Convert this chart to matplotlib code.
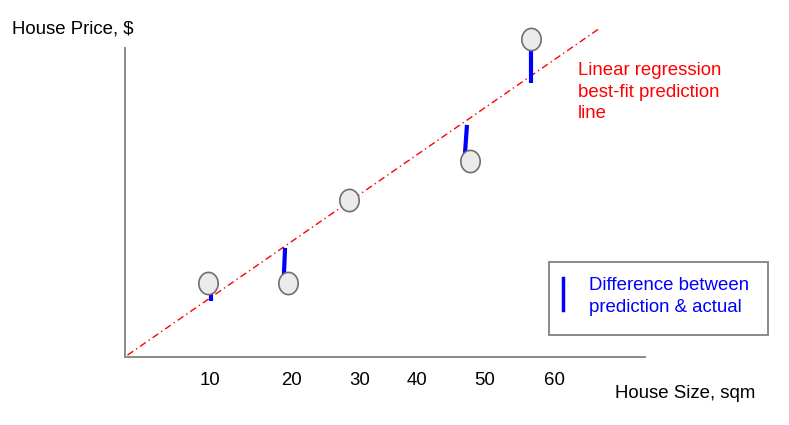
import matplotlib.pyplot as plt
from matplotlib.path import Path
from matplotlib.patches import Rectangle
import numpy as np

plt.rcParams['font.family'] = ['Liberation Sans', 'DejaVu Sans']

# observed houses (size, price) - arbitrary price units
size = [10.1, 19.8, 27.2, 41.8, 49.2]
price = [23.9, 23.9, 50.8, 63.4, 102.9]

# regression line end points
line_x = [0.3, 57.6]
line_y = [0.6, 106.5]

# residual bars (drawn by hand in the original, so a bit off the points)
res_x0 = [10.4, 19.4, 27.2, 41.45, 49.2]
res_x1 = [10.4, 19.25, 27.2, 41.2, 49.2]
res_top = [22.0, 35.3, 50.8, 75.1, 100.6]
res_bot = [18.1, 25.9, 50.8, 65.4, 88.7]

# x tick labels, placed where they sit in the drawing
tick_pos = [10.3, 20.2, 28.4, 35.4, 43.6, 52.1]
tick_lab = ['10', '20', '30', '40', '50', '60']

W, H = 789, 425
fig = plt.figure(figsize=(W / 100, H / 100), dpi=100)
ax = fig.add_axes([125 / W, 68 / H, 520 / W, 337 / H])
ax.set_xlim(0, 520 / 8.25)
ax.set_ylim(0, 337 / 3.09)

for s in ['top', 'right']:
    ax.spines[s].set_visible(False)
for s in ['left', 'bottom']:
    ax.spines[s].set_color('#8a8a8a')
    ax.spines[s].set_linewidth(1.4)
ax.spines['left'].set_bounds(0, 100)
ax.set_yticks([])
ax.set_xticks(tick_pos, tick_lab, fontsize=13.4)
ax.tick_params(axis='x', length=0, pad=10.5)

# best-fit line
ax.plot(line_x, line_y, color='red', lw=1, dashes=(5, 2.5, 1, 2.5), zorder=2)

# residuals
for i in range(len(size)):
    if res_top[i] != res_bot[i]:
        ax.plot([res_x0[i], res_x1[i]], [res_top[i], res_bot[i]],
                color='#0000ff', lw=3, solid_capstyle='butt', zorder=3)

# slightly tall circles like the original
t = np.linspace(0, 2 * np.pi, 60)
ell = Path(np.column_stack([0.87 * np.cos(t), np.sin(t)]), closed=True)
ax.plot(size, price, linestyle='none', marker=ell, markersize=16,
        markerfacecolor='#ebebeb', markeredgecolor='#707070',
        markeredgewidth=1.2, zorder=4, clip_on=False)

# labels
fig.text(12 / W, 1 - 20 / H, 'House Price, $', fontsize=13.4, va='top', ha='left')
fig.text(615 / W, 1 - 385 / H, 'House Size, sqm', fontsize=13.4, va='top', ha='left')
fig.text(578 / W, 1 - 62 / H, 'Linear regression\nbest-fit prediction\nline',
         fontsize=13.4, color='red', va='top', ha='left', linespacing=1.35)

# key box
fig.patches.append(Rectangle((549 / W, 1 - 335 / H), 219 / W, 73 / H,
                             transform=fig.transFigure, fill=False,
                             edgecolor='#8a8a8a', lw=1.4))
fig.lines.append(plt.Line2D([563 / W, 563 / W], [1 - 278 / H, 1 - 310 / H],
                            transform=fig.transFigure, color='#0000ff', lw=2.5))
fig.text(589 / W, 1 - 277 / H, 'Difference between\nprediction & actual',
         fontsize=13.4, color='#0000ff', va='top', ha='left', linespacing=1.35)

fig.savefig('out.png', dpi=100)
